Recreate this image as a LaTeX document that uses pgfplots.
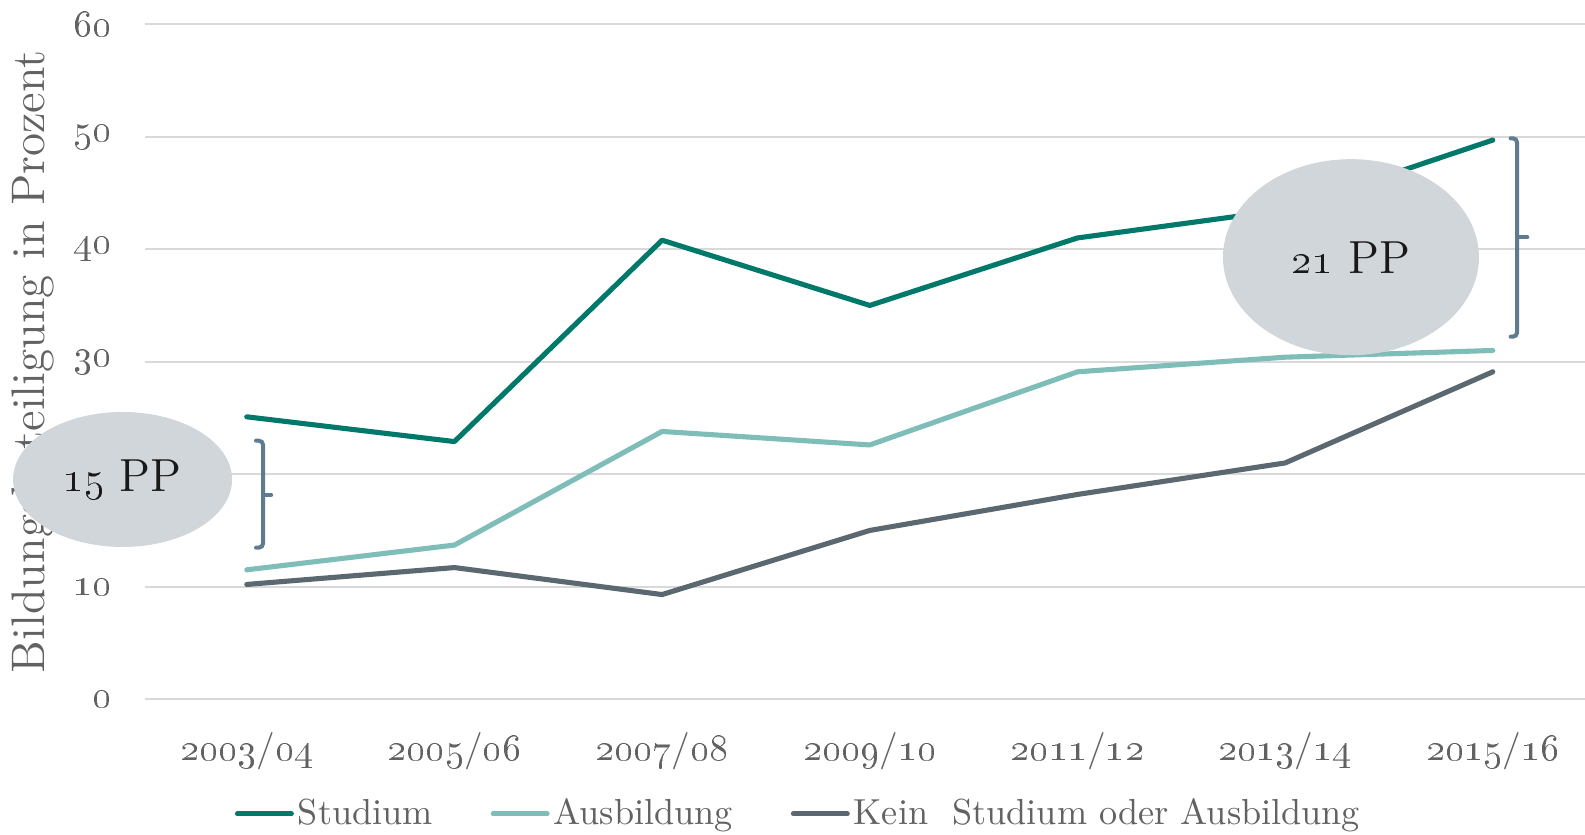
\documentclass[border=0pt]{standalone}
\usepackage{pgfplots}
\pgfplotsset{compat=1.18}
\definecolor{studium}{HTML}{00786A}
\definecolor{ausb}{HTML}{7FBDB8}
\definecolor{kein}{HTML}{5B6870}
\definecolor{brk}{HTML}{5F7B90}
\definecolor{ellc}{HTML}{D1D6DA}
\definecolor{gridc}{HTML}{D9D9D9}
\definecolor{txt}{HTML}{626262}
\newcommand{\osn}[1]{\oldstylenums{#1}}
\begin{document}
\begin{tikzpicture}
\begin{axis}[
  at={(14.5mm,13.58mm)}, anchor=south west,
  scale only axis, width=144mm, height=67.5mm,
  xmin=-0.49, xmax=6.444, ymin=0, ymax=60,
  clip=false,
  ytick={0,10,20,30,40,50,60},
  yticklabels={\osn{0},\osn{10},\osn{20},\osn{30},\osn{40},\osn{50},\osn{60}},
  xtick={0,1,2,3,4,5,6},
  xticklabels={\osn{2003}/\osn{04},\osn{2005}/\osn{06},\osn{2007}/\osn{08},\osn{2009}/\osn{10},\osn{2011}/\osn{12},\osn{2013}/\osn{14},\osn{2015}/\osn{16}},
  ymajorgrids, grid style={gridc, line width=0.6pt},
  axis line style={draw=none}, major tick length=0pt,
  tick label style={font=\fontsize{10.6}{12}\selectfont, text=txt},
  yticklabel style={anchor=east, xshift=-2.1mm},
  xticklabel style={anchor=base, yshift=-6.1mm},
  ylabel={Bildungsbeteiligung in Prozent},
  ylabel style={font=\fontsize{13.4}{15}\selectfont, text=txt, at={(axis description cs:-0.0775,0.5)}, anchor=center, rotate=0},
  legend columns=3,
  legend style={at={(axis description cs:0.062,-0.170)}, anchor=west, draw=none, fill=none, inner sep=0pt,
    font=\fontsize{10.3}{12}\selectfont, text=txt,
    nodes={inner xsep=0.4mm, inner ysep=0.5mm},
    /tikz/every even column/.append style={column sep=5.4mm}},
  legend cell align=left,
  legend image code/.code={\draw[#1, line width=1.4pt, line cap=round] (0mm,0mm) -- (5.4mm,0mm);},
  every axis plot/.append style={line width=1.45pt, line join=round, line cap=round},
]
\addplot[studium] coordinates {(0,25.1) (1,22.9) (2,40.8) (3,35.0) (4,41.0) (5,43.5) (6,49.7)};
\addlegendentry{Studium}
\addplot[ausb] coordinates {(0,11.5) (1,13.7) (2,23.8) (3,22.6) (4,29.1) (5,30.4) (6,31.0)};
\addlegendentry{Ausbildung}
\addplot[kein] coordinates {(0,10.2) (1,11.7) (2,9.3) (3,15.0) (4,18.2) (5,21.0) (6,29.1)};
\addlegendentry{Kein\ \ Studium oder Ausbildung}
% brackets
\draw[brk, line width=1.15pt, rounded corners=1.2pt, line cap=round]
  (axis cs:0.0448,22.98) -- (axis cs:0.0785,22.98) -- (axis cs:0.0785,13.47) -- (axis cs:0.0448,13.47);
\draw[brk, line width=1.15pt, line cap=round] (axis cs:0.0785,18.15) -- (axis cs:0.1174,18.15);
\draw[brk, line width=1.15pt, rounded corners=1.2pt, line cap=round]
  (axis cs:6.086,49.86) -- (axis cs:6.117,49.86) -- (axis cs:6.117,32.22) -- (axis cs:6.086,32.22);
\draw[brk, line width=1.15pt, line cap=round] (axis cs:6.117,41.06) -- (axis cs:6.166,41.06);
\coordinate (E1) at (axis cs:-0.598,19.53);
\coordinate (E2) at (axis cs:5.317,39.29);
\end{axis}
\fill[ellc] (E1) ellipse [x radius=10.95mm, y radius=6.75mm];
\node[font=\fontsize{13.2}{15}\selectfont, text=black!90] at (E1) {\osn{15} PP};
\fill[ellc] (E2) ellipse [x radius=12.8mm, y radius=9.8mm];
\node[font=\fontsize{13.2}{15}\selectfont, text=black!90] at (E2) {\osn{21} PP};
\pgfresetboundingbox
\useasboundingbox (0,0) rectangle (158.5mm,83.5mm);
\end{tikzpicture}
\end{document}
